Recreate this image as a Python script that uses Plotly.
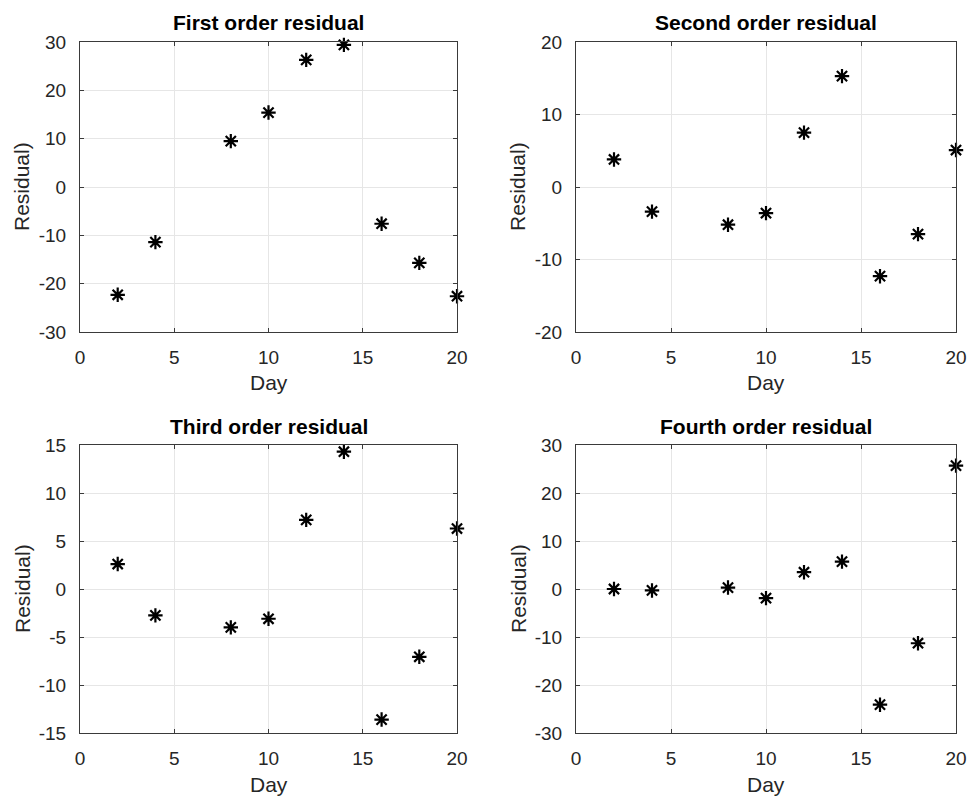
import plotly.graph_objects as go
from plotly.subplots import make_subplots

days = [2, 4, 8, 10, 12, 14, 16, 18, 20]

first_order = [-22.3, -11.4, 9.5, 15.4, 26.3, 29.4, -7.6, -15.7, -22.6]
second_order = [3.8, -3.4, -5.2, -3.6, 7.5, 15.3, -12.3, -6.5, 5.1]
third_order = [2.6, -2.75, -4.0, -3.1, 7.2, 14.3, -13.6, -7.06, 6.3]
fourth_order = [0.0, -0.3, 0.3, -1.9, 3.5, 5.7, -24.1, -11.3, 25.7]

titles = ["First order residual", "Second order residual",
          "Third order residual", "Fourth order residual"]
series = [first_order, second_order, third_order, fourth_order]

x_ticks = [0, 5, 10, 15, 20]
y_ticks_30 = [-30, -20, -10, 0, 10, 20, 30]
y_ticks_20 = [-20, -10, 0, 10, 20]
y_ticks_15 = [-15, -10, -5, 0, 5, 10, 15]
y_tick_sets = [y_ticks_30, y_ticks_20, y_ticks_15, y_ticks_30]

x_label = "Day"
y_label = "Residual)"

W, H = 968, 797
FONT = "Liberation Sans, Arial, Helvetica, sans-serif"
AX = "#3a3a3a"
TXT = "#262626"

# panel rectangles in pixels: (left, right, top, bottom)
panels = [(80, 457, 42, 332), (576, 956, 42, 332),
          (80, 457, 445, 733), (576, 956, 445, 733)]


def label(v):
    # plain hyphen for negative numbers
    return str(v)


fig = make_subplots(rows=2, cols=2)

for i, (vals, (l, r, t, b)) in enumerate(zip(series, panels)):
    row, col = i // 2 + 1, i % 2 + 1
    yt = y_tick_sets[i]
    fig.add_trace(go.Scatter(
        x=days, y=vals, mode="markers", cliponaxis=False,
        marker=dict(symbol="asterisk-open", size=12, color="black",
                    line=dict(color="black", width=2.2)),
        showlegend=False), row=row, col=col)
    axis_common = dict(showline=True, linecolor=AX, linewidth=1.2, mirror="allticks",
                       ticks="inside", ticklen=4, tickcolor=AX, tickwidth=1,
                       showgrid=True, gridcolor="#e6e6e6", gridwidth=1,
                       zeroline=False, automargin=False,
                       tickfont=dict(family=FONT, size=19, color=TXT))
    fig.update_xaxes(domain=[l / W, r / W], range=[x_ticks[0], x_ticks[-1]],
                     tickmode="array", tickvals=x_ticks,
                     ticktext=[label(v) for v in x_ticks],
                     ticklabelstandoff=8, **axis_common, row=row, col=col)
    fig.update_yaxes(domain=[1 - b / H, 1 - t / H], range=[yt[0], yt[-1]],
                     tickmode="array", tickvals=yt,
                     ticktext=[label(v) for v in yt],
                     ticklabelstandoff=9, **axis_common, row=row, col=col)
    # panel title
    fig.add_annotation(text="<b>" + titles[i] + "</b>", xref="paper", yref="paper",
                       x=(l + r) / 2 / W, y=1 - (t - 19) / H, xanchor="center",
                       yanchor="middle", showarrow=False,
                       font=dict(family=FONT, size=21, color="black"))
    # x axis title
    fig.add_annotation(text=x_label, xref="paper", yref="paper",
                       x=(l + r) / 2 / W, y=1 - (b + 51) / H, xanchor="center",
                       yanchor="middle", showarrow=False,
                       font=dict(family=FONT, size=21, color=TXT))
    # y axis title
    fig.add_annotation(text=y_label, xref="paper", yref="paper", textangle=-90,
                       x=(l - 58) / W, y=1 - (t + b) / 2 / H, xanchor="center",
                       yanchor="middle", showarrow=False,
                       font=dict(family=FONT, size=21, color=TXT))

fig.update_layout(width=W, height=H, margin=dict(l=0, r=0, t=0, b=0),
                  plot_bgcolor="white", paper_bgcolor="white")

fig.write_html("out.html")
